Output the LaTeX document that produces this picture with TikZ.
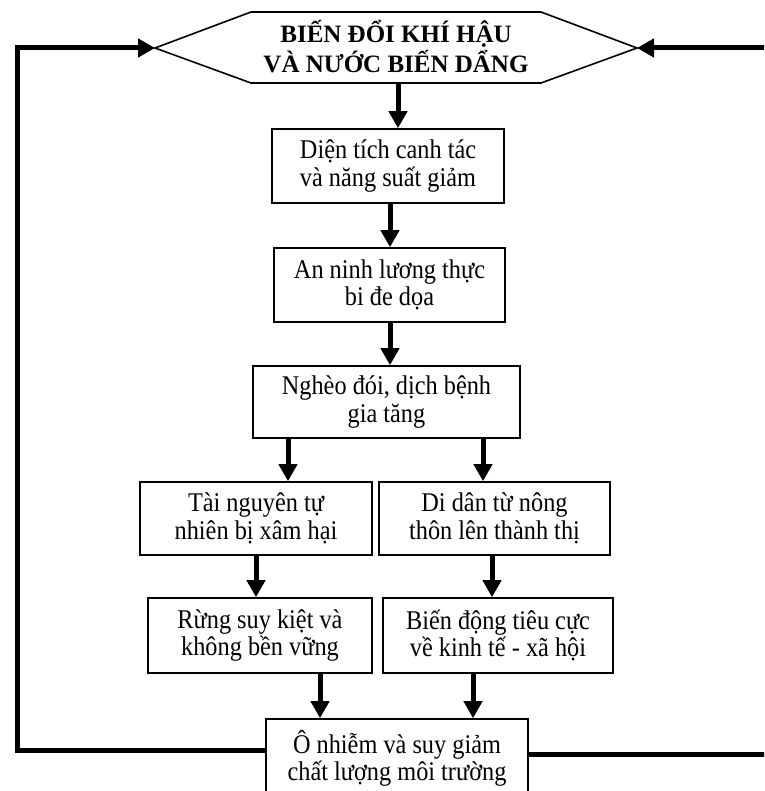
\documentclass[tikz,border=0pt]{standalone}
\usepackage{fontspec}
\setmainfont{Liberation Serif}
\newfontfamily\bodyfont{Liberation Serif}[FakeStretch=0.9]
\usetikzlibrary{arrows.meta}
\begin{document}
\begin{tikzpicture}[x=1pt,y=-1pt,
  box/.style={draw, line width=1.6pt, align=center, font=\bodyfont\fontsize{27}{27.5}\selectfont, inner sep=0pt},
  arr/.style={line width=5pt, -{Triangle[length=17pt,width=18pt]}},
  loopline/.style={line width=5pt, -{Triangle[length=17pt,width=18pt]}},
  hexline/.style={line width=1.6pt, line join=miter}
]
\clip (0,0) rectangle (764,791);
% hexagon
\coordinate (hexL) at (155,48);
\coordinate (hexTL) at (251,12);
\coordinate (hexTR) at (541,12);
\coordinate (hexR) at (637,48);
\coordinate (hexBR) at (541,83);
\coordinate (hexBL) at (251,83);
\coordinate (hexB) at (398,83);
\draw[hexline] (hexL) -- (hexTL) -- (hexTR) -- (hexR) -- (hexBR) -- (hexBL) -- cycle;
\node[align=center, font=\bfseries\fontsize{25}{30}\selectfont] (hex) at (396,47) {BIẾN ĐỔI KHÍ HẬU\\VÀ NƯỚC BIẾN DẨNG};
% boxes
\node[box, minimum width=232pt, minimum height=74pt] (b1) at (388,166) {Diện tích canh tác\\và năng suất giảm};
\node[box, minimum width=231pt, minimum height=74pt] (b2) at (389.5,285) {An ninh lương thực\\bi đe dọa};
\node[box, minimum width=267pt, minimum height=72pt] (b3) at (386.5,402) {Nghèo đói, dịch bệnh\\gia tăng};
\node[box, minimum width=232pt, minimum height=73pt] (b4l) at (256,518.5) {Tài nguyên tự\\nhiên bị xâm hại};
\node[box, minimum width=231pt, minimum height=73pt] (b4r) at (494.5,518.5) {Di dân từ nông\\thôn lên thành thị};
\node[box, minimum width=224pt, minimum height=75pt] (b5l) at (260,635.5) {Rừng suy kiệt và\\không bền vững};
\node[box, minimum width=230pt, minimum height=75pt] (b5r) at (498,635.5) {Biến động tiêu cực\\về kinh tế - xã hội};
\node[box, minimum width=262pt, minimum height=79pt] (b6) at (397,758.5) {Ô nhiễm và suy giảm\\chất lượng môi trường};
% connectors
\draw[arr] (hexB) -- (hexB |- b1.north);
\draw[arr] ([xshift=2pt]b1.south) -- ([xshift=0.5pt]b2.north);
\draw[arr] ([xshift=0.5pt]b2.south) -- ([xshift=3.5pt]b3.north);
\draw[arr] ([xshift=-98.5pt]b3.south) -- ([xshift=32pt]b4l.north);
\draw[arr] ([xshift=96.5pt]b3.south) -- ([xshift=-11.5pt]b4r.north);
\draw[arr] (b4l.south) -- (b5l.north -| b4l.south);
\draw[arr] ([xshift=-2.5pt]b4r.south) -- ([xshift=-6pt]b5r.north);
\draw[arr] ([xshift=60pt]b5l.south) -- ([xshift=-77pt]b6.north);
\draw[arr] ([xshift=-25pt]b5r.south) -- ([xshift=76pt]b6.north);
% feedback loops
\coordinate (leftc) at (17,0);
\coordinate (rightc) at (780,0);
\draw[loopline] ([yshift=8.5pt]b6.west) -| (leftc |- hexL) -- (hexL);
\draw[loopline] ([yshift=4.5pt]b6.east) -| (rightc |- hexR) -- (hexR);
\end{tikzpicture}
\end{document}
